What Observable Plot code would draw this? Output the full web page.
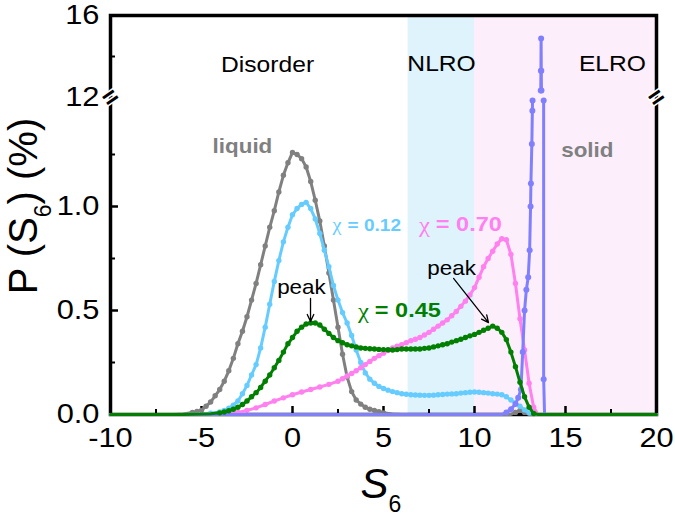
<!DOCTYPE html>
<html><head><meta charset="utf-8">
<script src="https://cdn.jsdelivr.net/npm/d3@7"></script>
<script src="https://cdn.jsdelivr.net/npm/@observablehq/plot@0.6"></script>
<style>body{margin:0;background:#fff}</style>
</head><body><div id="chart"></div>
<script>
// ---- axis ticks (broken y axis: lower 0–1.524, upper 12–16) ----
const xTicks = [-10, -5, 0, 5, 10, 15, 20];
const xMinor = [-7.5, -2.5, 2.5, 7.5, 12.5, 17.5];
const yTicks = [0, 0.5, 1.0, 12, 16];
const yMinor = [0.25, 0.75, 1.25, 14];
const yBreakLow = 1.524, yBreakHigh = 12, yTop = 16;

// ---- shaded regions ----
const regions = [
  {name: "NLRO", x1: 6.35, x2: 10, fill: "#dff3fd"},
  {name: "ELRO", x1: 10, x2: 20, fill: "#fdeefc"}
];

// ---- series: [S6, P(S6) %] ----
const liquid = [[-10,0],[-8,0],[-6.5,0],[-6,0.003],[-5.5,0.01],[-5.25,0.015],[-5,0.02],[-4.75,0.04],[-4.5,0.06],[-4.25,0.09],[-4,0.12],[-3.75,0.16],[-3.5,0.21],[-3.25,0.27],[-3,0.34],[-2.75,0.4],[-2.5,0.47],[-2.25,0.55],[-2,0.63],[-1.75,0.72],[-1.5,0.81],[-1.25,0.9],[-1,0.98],[-0.75,1.07],[-0.5,1.15],[-0.25,1.21],[0,1.26],[0.25,1.25],[0.5,1.23],[0.75,1.19],[1,1.12],[1.25,1.03],[1.5,0.93],[1.75,0.81],[2,0.68],[2.25,0.55],[2.5,0.42],[2.75,0.29],[3,0.18],[3.25,0.11],[3.5,0.07],[3.75,0.05],[4,0.035],[4.25,0.025],[4.5,0.02],[4.75,0.013],[5,0.008],[5.5,0.003],[6,0],[8,0],[10,0],[12,0],[12.25,0.01],[12.5,0.02],[12.75,0.01],[13,0],[15,0],[20,0]];
const chi012 = [[-10,0],[-6,0],[-5,0.003],[-4.5,0.006],[-4,0.012],[-3.75,0.02],[-3.5,0.03],[-3.25,0.045],[-3,0.065],[-2.75,0.1],[-2.5,0.14],[-2.25,0.19],[-2,0.24],[-1.75,0.32],[-1.5,0.42],[-1.25,0.53],[-1,0.64],[-0.75,0.74],[-0.5,0.83],[-0.25,0.9],[0,0.96],[0.25,0.99],[0.5,1.01],[0.75,1.02],[1,0.99],[1.25,0.94],[1.5,0.87],[1.75,0.79],[2,0.71],[2.25,0.62],[2.5,0.55],[2.75,0.49],[3,0.44],[3.25,0.38],[3.5,0.31],[3.75,0.25],[4,0.2],[4.25,0.17],[4.5,0.15],[4.75,0.135],[5,0.125],[5.25,0.117],[5.5,0.11],[5.75,0.105],[6,0.1],[6.25,0.097],[6.5,0.095],[6.75,0.094],[7,0.093],[7.25,0.092],[7.5,0.092],[7.75,0.093],[8,0.095],[8.25,0.096],[8.5,0.098],[8.75,0.099],[9,0.1],[9.25,0.103],[9.5,0.105],[9.75,0.107],[10,0.108],[10.25,0.107],[10.5,0.105],[10.75,0.103],[11,0.1],[11.25,0.098],[11.5,0.095],[11.75,0.085],[12,0.07],[12.25,0.055],[12.5,0.04],[12.75,0.022],[13,0.008],[13.25,0],[20,0]];
const chi070 = [[-10,0],[-5,0],[-4,0.002],[-3.5,0.005],[-3,0.01],[-2.5,0.02],[-2,0.032],[-1.5,0.048],[-1,0.065],[-0.5,0.08],[0,0.095],[0.5,0.108],[1,0.12],[1.5,0.132],[2,0.145],[2.5,0.16],[2.75,0.172],[3,0.185],[3.25,0.197],[3.5,0.21],[3.75,0.225],[4,0.24],[4.25,0.255],[4.5,0.27],[4.75,0.283],[5,0.295],[5.25,0.308],[5.5,0.32],[5.75,0.328],[6,0.335],[6.25,0.345],[6.5,0.355],[6.75,0.362],[7,0.37],[7.25,0.382],[7.5,0.395],[7.75,0.41],[8,0.425],[8.25,0.44],[8.5,0.455],[8.75,0.475],[9,0.495],[9.25,0.52],[9.5,0.545],[9.75,0.575],[10,0.61],[10.25,0.66],[10.5,0.71],[10.75,0.75],[11,0.785],[11.25,0.82],[11.5,0.845],[11.75,0.84],[12,0.77],[12.25,0.63],[12.5,0.46],[12.75,0.31],[13,0.15],[13.25,0.035],[13.5,0],[20,0]];
const solid = [[-10,0],[11.5,0],[11.75,0.01],[12,0.025],[12.25,0.05],[12.4,0.08],[12.55,0.12],[12.65,0.3],[12.75,0.5],[12.85,0.6],[12.95,0.66],[13.03,0.79],[13.08,1.0],[13.1,1.11],[13.15,1.3],[13.18,1.46],[13.19,1.51],[13.4,null],[13.64,12.34],[13.65,13.3],[13.66,14.88],[13.67,13.3],[13.68,12.34],[13.75,null],[13.8,1.51],[13.8,0.17],[13.85,0],[20,0]];
const chi045 = [[-10,0],[-6,0],[-5,0.002],[-4.5,0.004],[-4,0.008],[-3.75,0.012],[-3.5,0.018],[-3.25,0.025],[-3,0.035],[-2.75,0.048],[-2.5,0.065],[-2.25,0.085],[-2,0.105],[-1.75,0.13],[-1.5,0.16],[-1.25,0.19],[-1,0.225],[-0.75,0.26],[-0.5,0.3],[-0.25,0.34],[0,0.37],[0.25,0.4],[0.5,0.42],[0.75,0.435],[1,0.44],[1.25,0.44],[1.5,0.43],[1.75,0.41],[2,0.39],[2.25,0.37],[2.5,0.355],[2.75,0.345],[3,0.335],[3.25,0.33],[3.5,0.325],[3.75,0.32],[4,0.318],[4.25,0.316],[4.5,0.315],[4.75,0.313],[5,0.312],[5.25,0.311],[5.5,0.31],[5.75,0.312],[6,0.315],[6.25,0.315],[6.5,0.315],[6.75,0.315],[7,0.315],[7.25,0.318],[7.5,0.32],[7.75,0.325],[8,0.33],[8.25,0.335],[8.5,0.34],[8.75,0.348],[9,0.355],[9.25,0.362],[9.5,0.37],[9.75,0.378],[10,0.385],[10.25,0.395],[10.5,0.405],[10.75,0.415],[11,0.425],[11.25,0.415],[11.5,0.395],[11.75,0.36],[12,0.3],[12.25,0.23],[12.5,0.155],[12.75,0.085],[13,0.035],[13.25,0.005],[13.5,0],[20,0]];

const series = [
  {name: "liquid", data: liquid, color: "#808080", r: 2.7},
  {name: "χ = 0.12", data: chi012, color: "#66ccff", r: 2.7},
  {name: "χ = 0.70", data: chi070, color: "#ff80ee", r: 2.7},
  {name: "solid", data: solid, color: "#8080ff", r: 3},
  {name: "χ = 0.45", data: chi045, color: "#007f00", r: 2.7}
];

// ---- annotations (data coordinates) ----
const regionLabels = [
  {text: "Disorder", x: -1.37, y: 13.61},
  {text: "NLRO", x: 8.19, y: 13.66},
  {text: "ELRO", x: 17.58, y: 13.66}
];
const phaseLabels = [
  {text: "liquid", x: -2.75, y: 1.29},
  {text: "solid", x: 16.2, y: 1.27}
];
const chiLabels = [
  {value: "= 0.12", x: 2.75, y: 0.91, color: "#66ccff", size: 17},
  {value: "= 0.70", x: 7.6, y: 0.913, color: "#ff80ee", size: 21},
  {value: "= 0.45", x: 4.25, y: 0.5, color: "#007f00", size: 21}
];
const peakLabels = [
  {text: "peak", x: 0.49, y: 0.61},
  {text: "peak", x: 8.74, y: 0.70}
];
const peakArrows = [
  {x1: 0.99, y1: 0.558, x2: 0.99, y2: 0.447},
  {x1: 8.85, y1: 0.654, x2: 10.77, y2: 0.442}
];
const breaks = [{x: -10, y: yBreakHigh}, {x: 20, y: yBreakHigh}];

const W = 675, H = 519, mL = 110, mR = 19, mT = 15, mB = 105;
const frameH = H - mT - mB, frameW = W - mL - mR;
const yBreakPx = 97;

const marks = [
  Plot.rect(regions, {x1: "x1", x2: "x2", y1: 0, y2: yTop, fill: "fill"}),
  Plot.frame({stroke: "black", strokeWidth: 3.5}),
  Plot.tickX(xTicks, {x: d => d, stroke: "black", strokeWidth: 2.5, insetTop: frameH - 8}),
  Plot.tickX(xMinor, {x: d => d, stroke: "black", strokeWidth: 2, insetTop: frameH - 5}),
  Plot.tickY(yTicks, {y: d => d, stroke: "black", strokeWidth: 2.5, insetRight: frameW - 8}),
  Plot.tickY(yMinor, {y: d => d, stroke: "black", strokeWidth: 2, insetRight: frameW - 5}),
  Plot.axisX({ticks: xTicks, tickSize: 0, tickPadding: 13, fontSize: 28, label: null, tickFormat: d => String(d)}),
  Plot.axisY({ticks: yTicks, tickSize: 0, tickPadding: 11, fontSize: 28, label: null,
    tickFormat: d => d >= 10 ? String(d) : d.toFixed(1)})
];
for (const s of series) {
  marks.push(Plot.line(s.data, {x: d => d[0], y: d => d[1], stroke: s.color, strokeWidth: 3, curve: "linear"}));
  marks.push(Plot.dot(s.data.filter(d => d[1] != null && d[1] > 0.004), {x: d => d[0], y: d => d[1], r: s.r, fill: s.color}));
}
marks.push(
  Plot.text(regionLabels, {x: "x", y: "y", text: "text", fontSize: 22, fill: "black"}),
  Plot.text(phaseLabels, {x: "x", y: "y", text: "text", fontSize: 20, fontWeight: "bold", fill: "#808080"}),
  Plot.text(peakLabels, {x: "x", y: "y", text: "text", fontSize: 20, fill: "black"}),
  Plot.arrow(peakArrows, {x1: "x1", y1: "y1", x2: "x2", y2: "y2", stroke: "black", strokeWidth: 1.3, headLength: 9, headAngle: 50}),
  Plot.text(breaks, {x: "x", y: "y", text: () => "=", fontSize: 26, fontWeight: "bold", rotate: -35, fill: "black", stroke: "white", strokeWidth: 3})
);
for (const c of chiLabels) {
  marks.push(Plot.text([c], {x: "x", y: "y", text: () => "χ", textAnchor: "end", dx: -1, fontSize: c.size + 1, fontFamily: "Liberation Serif, serif", fill: c.color}));
  marks.push(Plot.text([c], {x: "x", y: "y", text: "value", textAnchor: "start", dx: 5, fontSize: c.size, fontWeight: "bold", fill: c.color}));
}

const svg = Plot.plot({
  width: W, height: H,
  marginLeft: mL, marginRight: mR, marginTop: mT, marginBottom: mB,
  style: {fontFamily: "Liberation Sans, Arial, sans-serif", background: "white", color: "black", overflow: "visible"},
  x: {domain: [-10, 20]},
  y: {type: "linear", domain: [0, yBreakLow, yBreakHigh, yTop], range: [H - mB, yBreakPx, yBreakPx, mT]},
  marks
});

// slightly wide lettering, as in the reference (horizontal text only)
const stretch = (sel, k) => d3.select(svg).selectAll(sel).each(function() {
  const t = this.getAttribute("transform") || "";
  if (t.includes("rotate")) return;
  this.setAttribute("transform", (t + ` scale(${k},1)`).trim());
});
stretch('g[aria-label="x-axis tick label"] text', 1.1);
stretch('g[aria-label="y-axis tick label"] text', 1.1);
stretch('g[aria-label="text"] text', 1.12);

// axis titles with subscripts
const g = d3.select(svg);
const xt = g.append("text").attr("x", 381).attr("y", 498).attr("text-anchor", "middle")
  .attr("font-family", "Liberation Sans, Arial, sans-serif").attr("font-size", 42).attr("fill", "black");
xt.append("tspan").attr("font-style", "italic").text("S");
xt.append("tspan").attr("font-size", 23).attr("dy", 14).text("6");
const yt = g.append("text").attr("transform", "translate(37,206) rotate(-90)").attr("text-anchor", "middle")
  .attr("font-family", "Liberation Sans, Arial, sans-serif").attr("font-size", 40).attr("fill", "black");
yt.append("tspan").text("P (S");
yt.append("tspan").attr("font-size", 23).attr("dy", 14).text("6");
yt.append("tspan").attr("dy", -14).text(") (%)");

document.getElementById("chart").appendChild(svg);
</script>
</body></html>
